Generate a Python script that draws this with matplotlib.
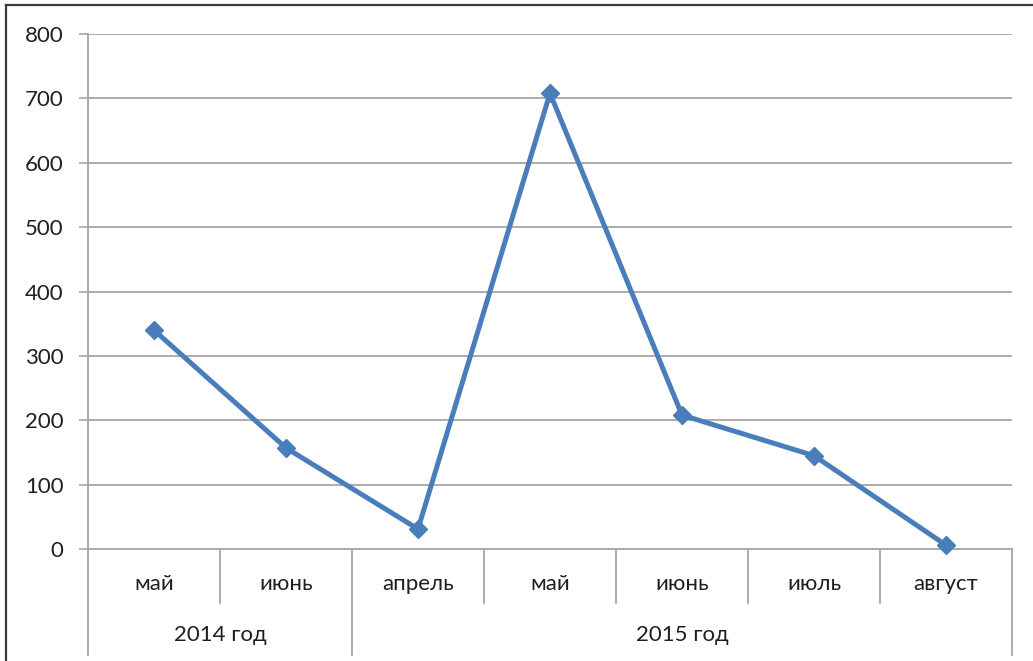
import matplotlib.pyplot as plt
import matplotlib.transforms as mtransforms
from matplotlib.lines import Line2D

months = ["май", "июнь", "апрель", "май", "июнь", "июль", "август"]
values = [340, 157, 31, 708, 208, 145, 6]
years = ["2014 год", "2015 год"]
year_sizes = [2, 5]
yticks = [0, 100, 200, 300, 400, 500, 600, 700, 800]

W, H = 1033, 661
plt.rcParams['font.family'] = ['Lato', 'DejaVu Sans']
fig = plt.figure(figsize=(W / 100, H / 100), dpi=100)
x0, x1, y_top, y_zero = 88, 1012, 34, 549
ax = fig.add_axes([x0 / W, (H - y_zero) / H, (x1 - x0) / W, (y_zero - y_top) / H])

grid_c = "#a6a6a6"
txt_c = "#1f1f1f"
fs = 16
xs = list(range(len(months)))
ax.plot(xs, values, color="#4a7ebb", lw=3.6, marker="D", ms=9.5, zorder=5, clip_on=False)

ax.set_xlim(-0.5, len(months) - 0.5)
ax.set_ylim(0, 800)
ax.set_yticks(yticks)
ax.tick_params(axis="y", length=6.5, width=1.2, color=grid_c, labelsize=fs, pad=11, labelcolor=txt_c)
ax.set_xticks([])
for y in yticks[1:]:
    ax.axhline(y, color=grid_c, lw=1.3, zorder=1)
for s in ["top", "right"]:
    ax.spines[s].set_visible(False)
ax.spines["left"].set_color(grid_c)
ax.spines["left"].set_linewidth(1.3)
ax.spines["bottom"].set_color(grid_c)
ax.spines["bottom"].set_linewidth(1.3)

# multi-level category axis
trans = mtransforms.blended_transform_factory(ax.transData, fig.transFigure)
def fy(py):
    return (H - py) / H

for i in range(len(months) + 1):
    xb = i - 0.5
    ax.add_line(Line2D([xb, xb], [fy(549), fy(603)], transform=trans, color=grid_c, lw=1.3, clip_on=False))
for i, m in enumerate(months):
    ax.text(i, fy(584), m, transform=trans, ha="center", va="center", fontsize=fs, color=txt_c)

start = 0
bounds = [-0.5]
for name, n in zip(years, year_sizes):
    ax.text(start + (n - 1) / 2, fy(635), name, transform=trans, ha="center", va="center", fontsize=fs, color=txt_c)
    start += n
    bounds.append(start - 0.5)
for xb in bounds:
    ax.add_line(Line2D([xb, xb], [fy(603), fy(655)], transform=trans, color=grid_c, lw=1.3, clip_on=False))

# outer chart frame (only top and left visible)
fig.add_artist(Line2D([6 / W, 1.0], [fy(5), fy(5)], color="#3a3a3a", lw=1.6))
fig.add_artist(Line2D([6 / W, 6 / W], [fy(5), 0.0], color="#3a3a3a", lw=1.6))

fig.savefig("out.png", dpi=100)
